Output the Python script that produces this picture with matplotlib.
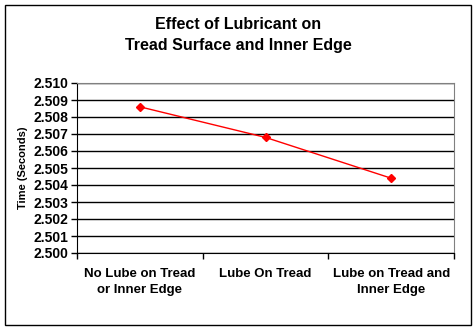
import matplotlib
matplotlib.use("Agg")
import matplotlib.pyplot as plt
from matplotlib.patches import Rectangle
from matplotlib.ticker import FixedLocator, NullFormatter

categories = ["No Lube on Tread\nor Inner Edge", "Lube On Tread", "Lube on Tread and\nInner Edge"]
times = [2.5086, 2.5068, 2.5044]
y_ticks = [2.500, 2.501, 2.502, 2.503, 2.504, 2.505, 2.506, 2.507, 2.508, 2.509, 2.510]

plt.rcParams["font.family"] = ["Liberation Sans", "DejaVu Sans"]
plt.rcParams["font.weight"] = "bold"


def main() -> None:
    fig = plt.figure(figsize=(4.76, 3.31), dpi=100)
    fig.patches.append(Rectangle((5 / 476, 6 / 331), 466 / 476, 320 / 331,
                                 transform=fig.transFigure, fill=False,
                                 edgecolor="black", linewidth=1.0))

    ax = fig.add_axes([77 / 476, 1 - 253 / 331, 377 / 476, 170 / 331])
    x = list(range(len(categories)))
    ax.plot(x, times, color="red", linewidth=1.0, marker="D", markersize=3.8)

    ax.set_xlim(-0.5, len(categories) - 0.5)
    ax.set_ylim(y_ticks[0], y_ticks[-1])
    ax.set_yticks(y_ticks)
    ax.set_yticklabels([f"{v:.3f}" for v in y_ticks], fontsize=10, fontweight="bold")

    ax.xaxis.set_major_locator(FixedLocator([i - 0.5 for i in range(len(categories) + 1)]))
    ax.xaxis.set_major_formatter(NullFormatter())
    ax.xaxis.set_minor_locator(FixedLocator(x))
    ax.set_xticklabels(categories, minor=True, fontsize=9.5, fontweight="bold",
                       linespacing=1.45)
    ax.tick_params(axis="x", which="minor", length=0, pad=11)
    ax.tick_params(axis="x", which="major", direction="out", length=4, width=1)
    ax.tick_params(axis="y", direction="out", length=4, width=1, pad=2)

    ax.grid(axis="y", color="black", linewidth=1.0)
    ax.set_axisbelow(True)
    for side in ("top", "right"):
        ax.spines[side].set_color("#808080")
    for side in ("left", "bottom"):
        ax.spines[side].set_color("black")

    ax.set_ylabel("Time (Seconds)", fontsize=8, fontweight="bold", labelpad=4)
    fig.text(0.5, 1 - 35 / 331, "Effect of Lubricant on\nTread Surface and Inner Edge",
             ha="center", va="center", fontsize=11.5, fontweight="bold", linespacing=1.45)

    fig.savefig("out.png", dpi=100)
    plt.close(fig)


if __name__ == "__main__":
    main()
